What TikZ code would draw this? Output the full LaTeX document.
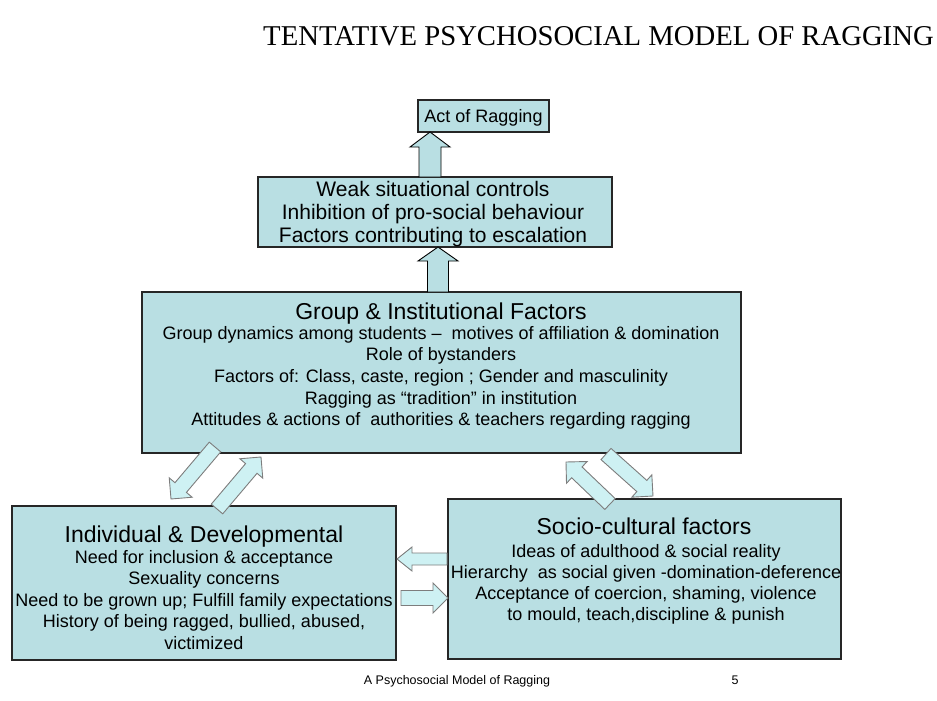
\documentclass[tikz,border=0pt]{standalone}
\usepackage{fontspec}
\setmainfont{Liberation Sans}
\newfontfamily\titlefont{Liberation Serif}
\usetikzlibrary{calc}
\definecolor{boxfill}{RGB}{185,223,227}
\definecolor{arrfill}{RGB}{206,241,243}
\definecolor{arrline}{RGB}{125,125,125}
\newcommand{\blockarrow}[6][]{%
  \coordinate (hb) at ($(#3)!#6!(#2)$);
  \draw[#1] ($(#2)!#4!-90:(#3)$) -- ($(hb)!#4!-90:(#3)$) -- ($(hb)!#5!-90:(#3)$) -- (#3)
    -- ($(hb)!#5!90:(#3)$) -- ($(hb)!#4!90:(#3)$) -- ($(#2)!#4!90:(#3)$) -- cycle;}

\begin{document}
\begin{tikzpicture}[x=1pt, y=-1pt,
  box/.style={draw=black!85, fill=boxfill, line width=1.1pt, inner sep=0pt},
  ttl/.style={anchor=base, inner sep=0pt, font=\fontsize{23}{27}\selectfont},
  line/.style={anchor=base, inner sep=0pt, font=\fontsize{18}{21.5}\selectfont},
  upline/.style={anchor=base, inner sep=0pt, font=\fontsize{21}{24}\selectfont},
  vert/.style={fill=boxfill, draw=black, line width=0.9pt},
  diag/.style={fill=arrfill, draw=arrline, line width=0.9pt}]
\useasboundingbox (0,0) rectangle (937,701);

\node[anchor=base east, inner sep=0pt, font=\titlefont\fontsize{28.7}{34}\selectfont] (title) at (934,46) {TENTATIVE PSYCHOSOCIAL MODEL OF RAGGING};

\node[box, minimum width=131pt, minimum height=32pt] (act) at (483.5,116) {};
\node[box, minimum width=354pt, minimum height=70pt] (weak) at (435,212) {};
\node[box, minimum width=599pt, minimum height=161pt] (group) at (441.5,372.5) {};
\node[box, minimum width=384pt, minimum height=154pt] (indiv) at (204,583) {};
\node[box, minimum width=393pt, minimum height=160pt] (socio) at (644.5,579) {};

\node[line] (act-t) at (483.5,122) {Act of Ragging};
\foreach \t [count=\i] in {Weak situational controls, Inhibition of pro-social behaviour, Factors contributing to escalation}
  \node[upline] (weak-\i) at (433,{196+23*(\i-1)}) {\t};

\node[ttl] (group-t) at (441,319) {Group \& Institutional Factors};
\foreach \t [count=\i] in {Group dynamics among students –\ \ motives of affiliation \& domination, Role of bystanders, {Factors of: Class, caste, region ; Gender and masculinity}, Ragging as “tradition” in institution, Attitudes \& actions of\ \ authorities \& teachers regarding ragging}
  \node[line] (group-\i) at (441,{339+21.7*(\i-1)}) {\t};

\node[ttl] (indiv-t) at (204,542) {Individual \& Developmental};
\foreach \t [count=\i] in {Need for inclusion \& acceptance, Sexuality concerns, Need to be grown up; Fulfill family expectations, {History of being ragged, bullied, abused,}, victimized}
  \node[line] (indiv-\i) at (204,{563+21.5*(\i-1)}) {\t};

\node[ttl] (socio-t) at (644,534) {Socio-cultural factors};
\foreach \t [count=\i] in {Ideas of adulthood \& social reality, Hierarchy\ \ as social given -domination-deference, {Acceptance of coercion, shaming, violence}, {to mould, teach,discipline \& punish}}
  \node[line] (socio-\i) at (646,{557+21.3*(\i-1)}) {\t};

\coordinate (a1s) at (430,177);  \coordinate (a1e) at (430,132);
\coordinate (a2s) at (438,292);  \coordinate (a2e) at (438,247);
\coordinate (l1s) at (215,447);  \coordinate (l1e) at (171,499);
\coordinate (l2s) at (217,509);  \coordinate (l2e) at (261,457);
\coordinate (r1s) at (610,504);  \coordinate (r1e) at (566,462);
\coordinate (r2s) at (606,454);  \coordinate (r2e) at (653,496);
\coordinate (h1s) at (447,559);  \coordinate (h1e) at (397,559);
\coordinate (h2s) at (401,598);  \coordinate (h2e) at (448,598);

\blockarrow[vert]{a1s}{a1e}{11pt}{20pt}{15pt}
\blockarrow[vert]{a2s}{a2e}{10.5pt}{20pt}{14pt}
\blockarrow[diag]{l1s}{l1e}{7.5pt}{15pt}{15pt}
\blockarrow[diag]{l2s}{l2e}{7.5pt}{15pt}{15pt}
\blockarrow[diag]{r1s}{r1e}{7.5pt}{15pt}{15pt}
\blockarrow[diag]{r2s}{r2e}{7.5pt}{15pt}{15pt}
\blockarrow[diag]{h1s}{h1e}{6pt}{12pt}{15pt}
\blockarrow[diag]{h2s}{h2e}{7.5pt}{15pt}{15pt}

\node[anchor=base, inner sep=0pt, font=\fontsize{12.5}{15}\selectfont] (foot) at (457,684) {A Psychosocial Model of Ragging};
\node[anchor=base, inner sep=0pt, font=\fontsize{12.5}{15}\selectfont] (page) at (735,684) {5};
\end{tikzpicture}
\end{document}
